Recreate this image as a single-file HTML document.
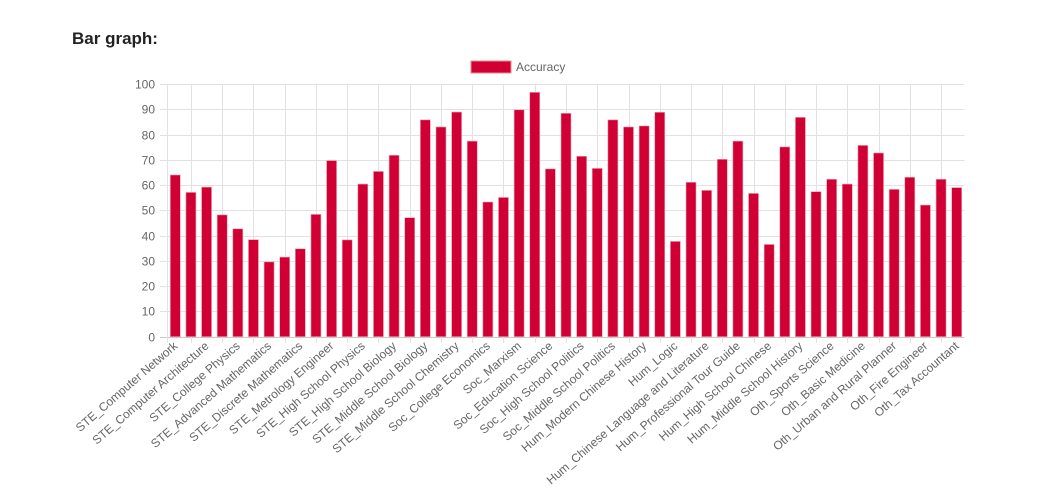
<!DOCTYPE html>
<html><head><meta charset="utf-8"><style>
body{margin:0;background:#fff;width:1043px;height:492px;overflow:hidden;font-family:"Liberation Sans",Arial,sans-serif}
</style></head><body>
<svg id="chart" width="1043" height="492" xmlns="http://www.w3.org/2000/svg" font-family="Liberation Sans, Arial, sans-serif">
<text x="72" y="44" font-size="17" font-weight="bold" fill="#222">Bar graph:</text>
<g>
<rect x="471" y="61" width="40" height="12" fill="#d10034" stroke="#e88" stroke-width="1"/>
<text x="516" y="71" font-size="12" fill="#666">Accuracy</text>
</g>
<g id="grid"></g><g id="bars"></g><g id="labels"></g>
</svg>
<script>
const categories=["STE_Computer Network","STE_Operating System","STE_Computer Architecture","STE_College Programming","STE_College Physics","STE_College Chemistry","STE_Advanced Mathematics","STE_Probability and Statistics","STE_Discrete Mathematics","STE_Electrical Engineer","STE_Metrology Engineer","STE_High School Mathematics","STE_High School Physics","STE_High School Chemistry","STE_High School Biology","STE_Middle School Mathematics","STE_Middle School Biology","STE_Middle School Physics","STE_Middle School Chemistry","STE_Veterinary Medicine","Soc_College Economics","Soc_Business Administration","Soc_Marxism","Soc_Mao Zedong Thought","Soc_Education Science","Soc_Teacher Qualification","Soc_High School Politics","Soc_High School Geography","Soc_Middle School Politics","Soc_Middle School Geography","Hum_Modern Chinese History","Hum_Ideological and Moral Cultivation","Hum_Logic","Hum_Law","Hum_Chinese Language and Literature","Hum_Art Studies","Hum_Professional Tour Guide","Hum_Legal Professional","Hum_High School Chinese","Hum_High School History","Hum_Middle School History","Oth_Civil Servant","Oth_Sports Science","Oth_Plant Protection","Oth_Basic Medicine","Oth_Clinical Medicine","Oth_Urban and Rural Planner","Oth_Accountant","Oth_Fire Engineer","Oth_Environmental Impact Assessment Engineer","Oth_Tax Accountant"];
const accuracy=[64,57.1,59.2,48.2,42.7,38.4,29.6,31.5,34.8,48.4,69.7,38.3,60.4,65.4,71.8,47.1,85.8,83,88.9,77.4,53.3,55.1,89.8,96.7,66.4,88.4,71.4,66.6,85.8,83,83.4,88.8,37.7,61.1,57.9,70.2,77.4,56.7,36.5,75.1,86.8,57.4,62.3,60.4,75.7,72.7,58.3,63.1,52.1,62.3,59,80.7];
const yTicks=[0,10,20,30,40,50,60,70,80,90,100];
const NS="http://www.w3.org/2000/svg";
const n=categories.length;
const X0=167.5,X1=964.5,Y0=336.7,Y1=84;
const bw=(X1-X0)/n;
function xc(i){return X0+bw*(i+0.5);}
function yv(v){return Y0-(v/100)*(Y0-Y1);}
const grid=document.getElementById('grid'),bars=document.getElementById('bars'),labels=document.getElementById('labels');
function mk(tag,attrs,parent){const e=document.createElementNS(NS,tag);for(const k in attrs)e.setAttribute(k,attrs[k]);parent.appendChild(e);return e;}
yTicks.forEach(t=>{
 const y=Math.round(yv(t))+0.5;
 const l=mk('line',{x1:160,x2:X1,y1:y,y2:y,stroke:t===0?'#c8c8c8':'#e2e2e2','stroke-width':1},grid);
 
 
 const tx=mk('text',{x:155,y:y+4,'text-anchor':'end','font-size':12,fill:'#666'},grid);
 tx.textContent=t;
 
 
});
mk('line',{x1:X0,x2:X0,y1:Y1,y2:Y0+6,stroke:'#e2e2e2'},grid);
for(let i=1;i<n;i+=2){
 const x=Math.round(xc(i))+0.5;
 const l=mk('line',{x1:x,x2:x,y1:Y1,y2:Y0+6,stroke:'#e2e2e2'},grid);
 
 
}
accuracy.slice(0,n).forEach((v,i)=>{
 const r=mk('rect',{x:xc(i)-5,y:yv(v),width:10,height:Y0-yv(v),fill:'#d10034',stroke:'#f0a0b0','stroke-width':0.6},bars);
 
 
});
categories.forEach((c,i)=>{
 if(i%2)return;
 const x=xc(i)+3,y=347;
 const t=mk('text',{x:x,y:y,'text-anchor':'end','font-size':12,fill:'#666',transform:`rotate(-41 ${x} ${y})`},labels);
 t.textContent=c;
 
 
});
</script>
</body></html>
